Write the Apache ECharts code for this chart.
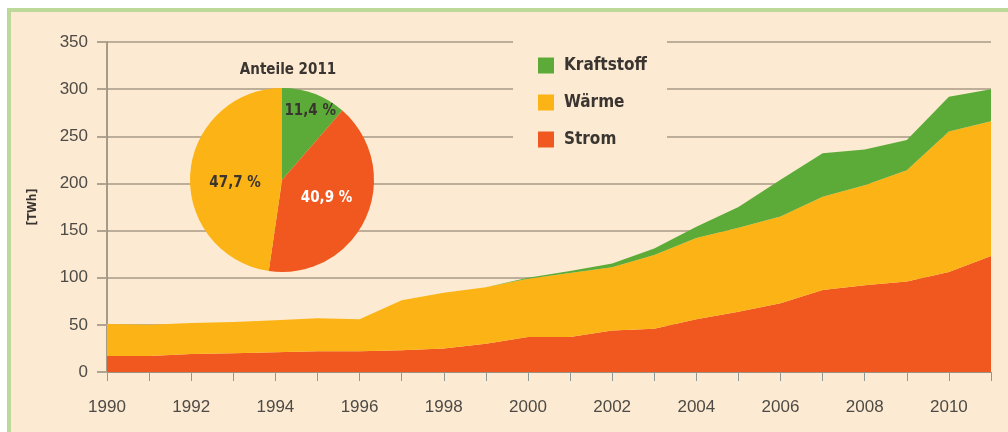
<!DOCTYPE html>
<html>
<head>
<meta charset="utf-8">
<script src="https://cdn.jsdelivr.net/npm/echarts@6/dist/echarts.min.js"></script>
<style>
html,body{margin:0;padding:0;background:#ffffff;}
#frame{position:absolute;left:7px;top:8px;width:1001px;height:424px;background:#fcebd2;border-left:4px solid #bcd99a;border-top:4px solid #bcd99a;box-sizing:border-box;}
#c{position:absolute;left:0;top:0;width:1008px;height:432px;}
</style>
</head>
<body>
<div id="frame"></div>
<div id="c"></div>
<script>
const years = ['1990','1991','1992','1993','1994','1995','1996','1997','1998','1999','2000','2001','2002','2003','2004','2005','2006','2007','2008','2009','2010','2011'];
const strom = [17,17,19,20,21,22,22,23,25,30,37,37,44,46,56,64,73,87,92,96,106,123];
const waerme = [34,33,33,33,34,35,34,53,59,60,62,68,67,78,86,89,92,99,106,118,149,143];
const kraftstoff = [0,0,0,0,0,0,0,0,0,0,1,2,4,7,12,22,39,46,38,32,37,34];
const pieNames = ['Kraftstoff','Strom','Wärme'];
const pieShares = [11.4,40.9,47.7];
const yTicks = [0,50,100,150,200,250,300,350];

const colors = {Kraftstoff:'#5cab38', 'Wärme':'#fcb315', Strom:'#f0581f'};
const txt = '#3a3530';
const font = 'Liberation Sans';
const cond = 'DejaVu Sans Condensed';

const chart = echarts.init(document.getElementById('c'));
chart.setOption({
  backgroundColor: 'transparent',
  animation: false,
  grid: {left:107, right:17, top:42, bottom:60},
  legend: {
    orient:'vertical', left:513, top:40, itemWidth:16, itemHeight:16, itemGap:20,
    icon:'rect',
    data:['Kraftstoff','Wärme','Strom'],
    backgroundColor:'#fcebd2', padding:[17,20,6,25],
    textStyle:{fontFamily:cond, fontSize:17, fontWeight:'bold', color:txt, padding:[0,0,0,5]}
  },
  title: {
    text:'Anteile 2011', left:283, top:58, textAlign:'center',
    textStyle:{fontFamily:cond, fontSize:15, fontWeight:'bold', color:txt}
  },
  xAxis: {
    type:'category', data:years, boundaryGap:false,
    axisLine:{show:true, lineStyle:{color:'#9a8f80', width:1}},
    axisTick:{show:true, interval:0, length:9, lineStyle:{color:'#8e9a9a'}},
    axisLabel:{interval:1, fontFamily:font, fontSize:17, color:'#4e4a46', margin:27},
    splitLine:{show:false}
  },
  yAxis: {
    type:'value', min:0, max:350, interval:50,
    name:'[TWh]', nameLocation:'middle', nameRotate:90, nameGap:68,
    nameTextStyle:{fontFamily:cond, fontSize:12, fontWeight:'bold', color:txt},
    axisLine:{show:true, lineStyle:{color:'#8a8070', width:1.5}},
    axisTick:{show:true, length:10, lineStyle:{color:'#b0a490', width:2}},
    axisLabel:{fontFamily:font, fontSize:17, color:'#4e4a46', margin:19,
      formatter: v => yTicks.includes(v) ? String(v) : ''},
    splitLine:{show:true, lineStyle:{color:'#bcae98', width:2}}
  },
  series: [
    {name:'Strom', type:'line', stack:'t', data:strom, symbol:'none', lineStyle:{width:0},
      areaStyle:{color:colors.Strom, opacity:1}, itemStyle:{color:colors.Strom}, z:2},
    {name:'Wärme', type:'line', stack:'t', data:waerme, symbol:'none', lineStyle:{width:0},
      areaStyle:{color:colors['Wärme'], opacity:1}, itemStyle:{color:colors['Wärme']}, z:2},
    {name:'Kraftstoff', type:'line', stack:'t', data:kraftstoff, symbol:'none', lineStyle:{width:0},
      areaStyle:{color:colors.Kraftstoff, opacity:1}, itemStyle:{color:colors.Kraftstoff}, z:2},
    {type:'pie', center:[282,180], radius:[0,92], startAngle:90, clockwise:true,
      z:5, silent:true, legendHoverLink:false,
      label:{show:true, position:'inside', fontFamily:cond, fontSize:15, fontWeight:'bold', color:txt,
        formatter: p => String(p.value).replace('.', ',') + ' %'},
      labelLine:{show:false},
      data: pieNames.map((n,i) => {
        const d = {name:n, value:pieShares[i], itemStyle:{color:colors[n]}};
        if (n==='Kraftstoff') d.label = {offset:[11,-23]};
        if (n==='Strom') d.label = {color:'#ffffff', offset:[0,-2]};
        if (n==='Wärme') d.label = {offset:[2,7]};
        return d;
      })
    }
  ]
});
</script>
</body>
</html>
